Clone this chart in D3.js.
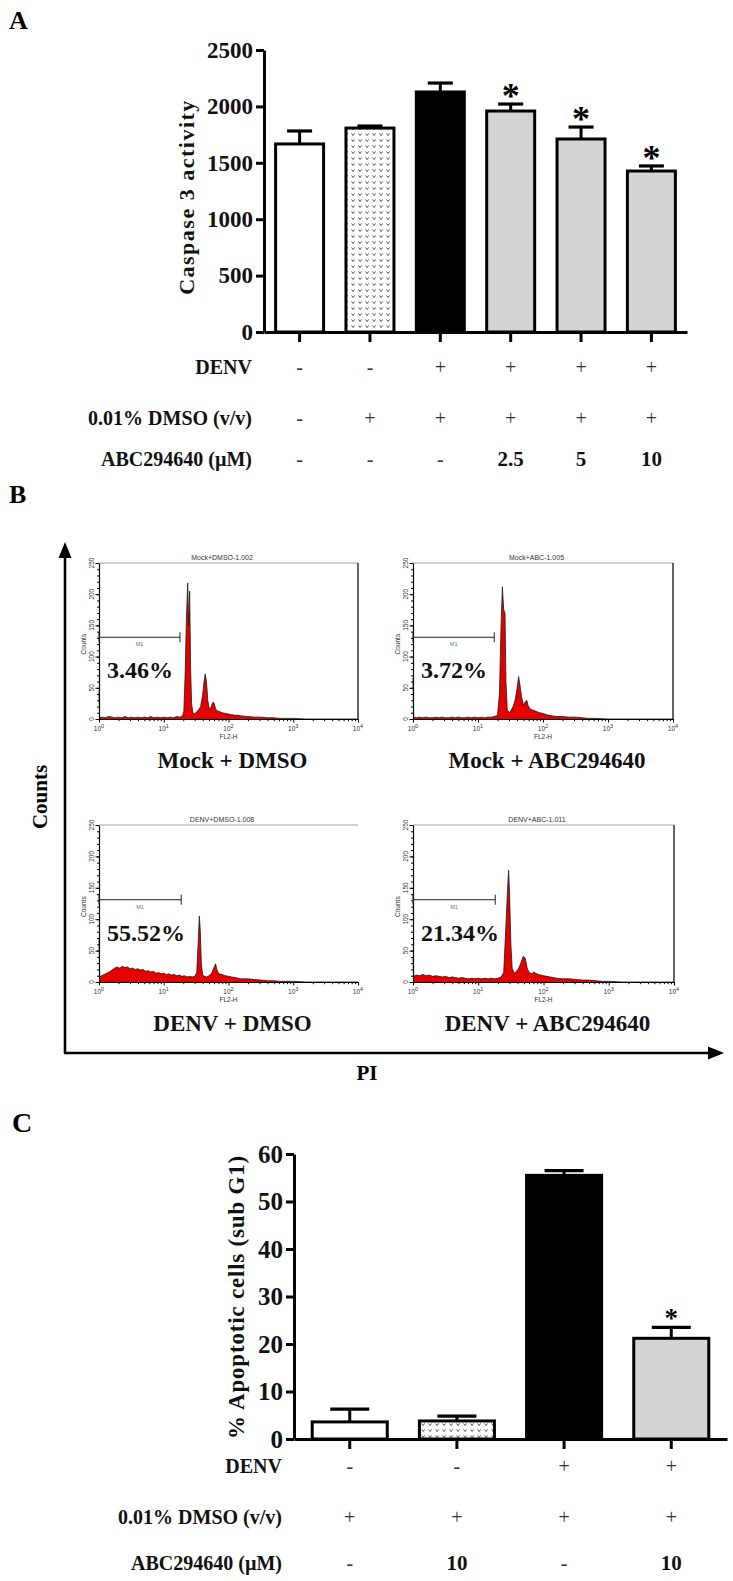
<!DOCTYPE html>
<html><head><meta charset="utf-8">
<script src="https://cdn.jsdelivr.net/npm/d3@7"></script>
<style>body{margin:0;background:#fff} svg{display:block}</style>
</head><body>
<svg id="fig" width="733" height="1581"></svg>
<script>
// ---------------- Panel A data ----------------
const groupsA = ["Mock","Mock+DMSO","DENV+DMSO","DENV+2.5","DENV+5","DENV+10"];
const caspase = [1667, 1808, 2128, 1959, 1711, 1427];
const caspaseErr = [115, 18, 79, 62, 106, 45];
const sigA = [false, false, false, true, true, true];
const fillsA = ["white", "pattern", "black", "grey", "grey", "grey"];
const yTicksA = [0, 500, 1000, 1500, 2000, 2500];
const denvA = ["-", "-", "+", "+", "+", "+"];
const dmsoA = ["-", "+", "+", "+", "+", "+"];
const abcA  = ["-", "-", "-", "2.5", "5", "10"];

// ---------------- Panel C data ----------------
const groupsC = ["Mock+DMSO","Mock+ABC","DENV+DMSO","DENV+ABC"];
const apoptotic = [3.6, 3.8, 55.5, 21.2];
const apoErr = [2.7, 1.0, 1.0, 2.3];
const sigC = [false, false, false, true];
const fillsC = ["white", "pattern", "black", "grey"];
const yTicksC = [0, 10, 20, 30, 40, 50, 60];
const denvC = ["-", "-", "+", "+"];
const dmsoC = ["+", "+", "+", "+"];
const abcC  = ["-", "10", "-", "10"];

// ---------------- Panel B data: [log10(FL2-H), counts] ----------------
const histMockDMSO = [[0.00,45],[0.01,2],[0.05,3],[0.10,2],[0.15,4],[0.20,3],[0.25,2],[0.30,3],[0.35,2],[0.40,4],[0.45,2],[0.50,3],[0.55,2],[0.60,3],[0.65,2],[0.70,3],[0.75,2],[0.80,4],[0.85,2],[0.90,3],[0.95,2],[1.00,3],[1.05,2],[1.10,3],[1.15,2],[1.20,4],[1.25,3],[1.29,5],[1.31,12],[1.33,70],[1.35,160],[1.37,218],[1.385,150],[1.40,205],[1.415,80],[1.43,25],[1.45,10],[1.48,8],[1.51,12],[1.54,15],[1.57,20],[1.60,38],[1.62,58],[1.64,72],[1.66,60],[1.68,30],[1.70,18],[1.72,16],[1.74,22],[1.76,27],[1.78,25],[1.80,16],[1.83,13],[1.86,12],[1.90,10],[1.95,9],[2.00,8],[2.05,7],[2.10,6],[2.15,6],[2.20,5],[2.30,4],[2.40,3],[2.50,3],[2.60,2],[2.70,2],[2.80,1],[2.90,1],[3.00,1],[3.20,0],[4.00,0]];
const histMockABC = [[0.00,66],[0.01,3],[0.05,2],[0.10,3],[0.15,2],[0.20,3],[0.25,2],[0.30,2],[0.35,3],[0.40,2],[0.45,3],[0.50,2],[0.55,2],[0.60,3],[0.65,2],[0.70,3],[0.75,2],[0.80,2],[0.85,3],[0.90,2],[0.95,3],[1.00,2],[1.05,3],[1.10,2],[1.15,3],[1.20,3],[1.25,4],[1.30,6],[1.33,40],[1.355,150],[1.375,212],[1.395,175],[1.415,170],[1.43,60],[1.45,15],[1.48,10],[1.51,14],[1.54,20],[1.57,30],[1.60,48],[1.625,68],[1.645,55],[1.67,35],[1.70,22],[1.73,28],[1.75,30],[1.77,22],[1.80,16],[1.85,14],[1.90,12],[1.95,10],[2.00,9],[2.05,7],[2.10,6],[2.15,5],[2.20,4],[2.30,4],[2.40,3],[2.50,3],[2.60,2],[2.70,1],[2.80,1],[3.00,0],[4.00,0]];
const histDenvDMSO = [[0.00,70],[0.01,8],[0.04,10],[0.08,12],[0.12,14],[0.16,16],[0.20,19],[0.24,22],[0.28,24],[0.32,22],[0.36,25],[0.40,23],[0.44,24],[0.48,21],[0.52,22],[0.56,20],[0.60,21],[0.64,19],[0.68,20],[0.72,17],[0.76,18],[0.80,16],[0.84,17],[0.88,14],[0.92,15],[0.96,13],[1.00,14],[1.04,12],[1.08,13],[1.12,11],[1.16,12],[1.20,10],[1.24,11],[1.28,9],[1.32,10],[1.36,8],[1.40,9],[1.44,8],[1.48,9],[1.51,15],[1.53,60],[1.55,105],[1.565,80],[1.58,30],[1.60,12],[1.63,9],[1.66,8],[1.70,10],[1.74,14],[1.78,24],[1.80,29],[1.82,20],[1.85,13],[1.90,12],[1.95,10],[2.00,9],[2.05,8],[2.10,7],[2.15,6],[2.20,5],[2.30,5],[2.40,4],[2.50,3],[2.60,2],[2.70,2],[2.80,1],[2.90,1],[3.00,1],[3.20,0],[4.00,0]];
const histDenvABC = [[0.00,40],[0.01,9],[0.05,11],[0.10,10],[0.15,12],[0.20,10],[0.25,11],[0.30,9],[0.35,10],[0.40,9],[0.45,8],[0.50,9],[0.55,7],[0.60,8],[0.65,7],[0.70,6],[0.75,7],[0.80,6],[0.85,5],[0.90,6],[0.95,5],[1.00,6],[1.05,5],[1.10,6],[1.15,5],[1.20,6],[1.25,5],[1.30,6],[1.35,8],[1.39,15],[1.42,80],[1.45,150],[1.465,178],[1.48,140],[1.50,60],[1.52,22],[1.55,14],[1.58,16],[1.62,22],[1.66,32],[1.69,41],[1.72,38],[1.75,22],[1.78,15],[1.82,13],[1.85,16],[1.88,14],[1.92,12],[1.96,11],[2.00,10],[2.05,9],[2.10,8],[2.15,7],[2.20,6],[2.30,5],[2.40,5],[2.50,4],[2.60,3],[2.70,3],[2.80,2],[2.90,1],[3.00,1],[3.20,0],[4.00,0]];
const flowTitles = ["Mock+DMSO-1.002", "Mock+ABC-1.005", "DENV+DMSO-1.008", "DENV+ABC-1.011"];
const flowLabels = ["Mock + DMSO", "Mock + ABC294640", "DENV + DMSO", "DENV + ABC294640"];
const subG1 = ["3.46%", "3.72%", "55.52%", "21.34%"];
const m1End = [1.25, 1.25, 1.27, 1.26];
const countTicks = [0, 50, 100, 150, 200, 250];
const decadeTicks = [0, 1, 2, 3, 4];

// ---------------- drawing ----------------
const svg = d3.select("#fig");
const serif = "'Liberation Serif','Times New Roman',Times,serif";
const sans = "'Liberation Sans',Arial,sans-serif";

const defs = svg.append("defs");
const pat = defs.append("pattern").attr("id","dots").attr("patternUnits","userSpaceOnUse")
  .attr("width",7).attr("height",6);
pat.append("rect").attr("width",7).attr("height",6).attr("fill","#fff");
pat.append("path").attr("d","M1.6,1.4 L3.1,3.6 L4.6,1.4").attr("fill","none").attr("stroke","#4a4a4a").attr("stroke-width",0.9);

const fillOf = f => f === "pattern" ? "url(#dots)" : f === "grey" ? "#d4d4d4" : f === "black" ? "#000" : "#fff";

function barPanel(c) {
  const g = svg.append("g");
  const x = d3.scaleBand().domain(c.groups).range(c.xRange).paddingInner(c.pi).paddingOuter(c.po);
  const y = d3.scaleLinear().domain(c.domain).range(c.yRange);
  const bw = x.bandwidth();
  const cx = i => x(c.groups[i]) + bw / 2;

  c.values.forEach((v, i) => {
    g.append("line").attr("x1", cx(i)).attr("x2", cx(i)).attr("y1", y(v)).attr("y2", y(v + c.errs[i]))
      .attr("stroke", "#000").attr("stroke-width", 3);
    g.append("line").attr("x1", cx(i) - c.capW / 2).attr("x2", cx(i) + c.capW / 2)
      .attr("y1", y(v + c.errs[i])).attr("y2", y(v + c.errs[i]))
      .attr("stroke", "#000").attr("stroke-width", 3.2);
    if (c.sig[i]) {
      g.append("text").attr("x", cx(i)).attr("y", y(v + c.errs[i]) + c.starDy)
        .attr("text-anchor", "middle").attr("font-family", serif).attr("font-weight", "bold")
        .attr("font-size", c.starFs).text("*");
    }
  });
  g.selectAll("rect.bar").data(c.values).join("rect").attr("class", "bar")
    .attr("x", (d, i) => x(c.groups[i])).attr("width", bw)
    .attr("y", d => y(d)).attr("height", d => y(0) - y(d))
    .attr("fill", (d, i) => fillOf(c.fills[i])).attr("stroke", "#000").attr("stroke-width", 3);

  const ya = g.append("g").attr("transform", `translate(${c.xRange[0]},0)`)
    .call(d3.axisLeft(y).tickValues(c.yTicks).tickSize(8).tickSizeOuter(0).tickPadding(3).tickFormat(d3.format("d")));
  ya.select(".domain").attr("stroke-width", 3);
  ya.selectAll(".tick line").attr("stroke-width", 3);
  ya.selectAll(".tick text").attr("font-family", serif).attr("font-weight", "bold")
    .attr("font-size", c.tickFs).attr("fill", "#111");
  const xa = g.append("g").attr("transform", `translate(0,${y(0)})`)
    .call(d3.axisBottom(x).tickSize(10).tickSizeOuter(0).tickFormat(""));
  xa.select(".domain").attr("stroke-width", 3);
  xa.selectAll(".tick line").attr("stroke-width", 3);

  g.append("text").attr("transform", `translate(${c.yLabelX},${c.yLabelY}) rotate(-90)`)
    .attr("text-anchor", "middle").attr("font-family", serif).attr("font-weight", "bold")
    .attr("font-size", c.yLabelFs).attr("letter-spacing", c.yLabelLs).attr("fill", "#111").text(c.yLabel);

  c.rows.forEach(r => {
    g.append("text").attr("x", c.labelRight).attr("y", r.y).attr("text-anchor", "end")
      .attr("font-family", serif).attr("font-weight", "bold").attr("font-size", 20).attr("fill", "#111").text(r.label);
    r.vals.forEach((v, i) => {
      const sym = v === "+" || v === "-";
      g.append("text").attr("x", cx(i)).attr("y", r.y).attr("text-anchor", "middle")
        .attr("font-family", serif).attr("font-weight", sym ? "normal" : "bold")
        .attr("font-size", sym ? 20 : 21).attr("fill", sym ? "#333" : "#111").text(v);
    });
  });
}

// Panel A
svg.append("text").attr("x", 9).attr("y", 29).attr("font-family", serif).attr("font-weight", "bold")
  .attr("font-size", 26).text("A");
barPanel({
  groups: groupsA, values: caspase, errs: caspaseErr, sig: sigA, fills: fillsA,
  domain: [0, 2500], yTicks: yTicksA, xRange: [264, 687], yRange: [332, 50],
  pi: 0.318, po: 0.165, capW: 25, tickFs: 23, starFs: 36, starDy: 4,
  yLabel: "Caspase 3 activity", yLabelX: 194, yLabelY: 197, yLabelFs: 22, yLabelLs: 1.5,
  labelRight: 252,
  rows: [{label: "DENV", vals: denvA, y: 374}, {label: "0.01% DMSO (v/v)", vals: dmsoA, y: 425}, {label: "ABC294640 (\u00b5M)", vals: abcA, y: 466}]
});

// Panel B
svg.append("text").attr("x", 9).attr("y", 503).attr("font-family", serif).attr("font-weight", "bold")
  .attr("font-size", 26).text("B");
svg.append("line").attr("x1", 65).attr("x2", 65).attr("y1", 1053).attr("y2", 556).attr("stroke", "#000").attr("stroke-width", 2.6);
svg.append("path").attr("d", "M65,542 L58.5,558 L71.5,558 Z").attr("fill", "#000");
svg.append("line").attr("x1", 64).attr("x2", 710).attr("y1", 1053).attr("y2", 1053).attr("stroke", "#000").attr("stroke-width", 2.6);
svg.append("path").attr("d", "M724,1053 L708,1046.5 L708,1059.5 Z").attr("fill", "#000");
svg.append("text").attr("transform", "translate(47,797) rotate(-90)").attr("text-anchor", "middle")
  .attr("font-family", serif).attr("font-weight", "bold").attr("font-size", 21).text("Counts");
svg.append("text").attr("x", 367).attr("y", 1080).attr("text-anchor", "middle")
  .attr("font-family", serif).attr("font-weight", "bold").attr("font-size", 21).text("PI");

function flowPanel(p) {
  const xs = d3.scaleLinear().domain([0, 4]).range([p.x0, p.x1]);
  const ys = d3.scaleLinear().domain([0, 250]).range([p.yb, p.yt]);
  const g = svg.append("g");
  g.append("path").datum(p.data)
    .attr("d", d3.area().x(d => xs(d[0])).y0(ys(0)).y1(d => ys(d[1])))
    .attr("fill", "#e50000");
  g.append("path").datum(p.data)
    .attr("d", d3.line().x(d => xs(d[0])).y(d => ys(d[1])))
    .attr("fill", "none").attr("stroke", "#1a1a1a").attr("stroke-width", 0.8);
  g.append("line").attr("x1", xs(0)).attr("x2", xs(4)).attr("y1", ys(250)).attr("y2", ys(250))
    .attr("stroke", "#a0a0a0").attr("stroke-width", 1);
  if (p.right) g.append("line").attr("x1", xs(4)).attr("x2", xs(4)).attr("y1", ys(250)).attr("y2", ys(0))
    .attr("stroke", "#111").attr("stroke-width", 1.3);
  const ya = g.append("g").attr("transform", `translate(${p.x0},0)`)
    .call(d3.axisLeft(ys).tickValues(countTicks).tickSize(3.5).tickSizeOuter(0).tickFormat(""));
  g.append("g").attr("transform", `translate(${p.x0},0)`)
    .call(d3.axisLeft(ys).tickValues(d3.range(0, 251, 10)).tickSize(2).tickSizeOuter(0).tickFormat(""))
    .select(".domain").remove();
  ya.select(".domain").attr("stroke-width", 1.2);
  g.selectAll("text.yl").data(countTicks).join("text").attr("class", "yl")
    .attr("transform", d => `translate(${p.x0 - 5},${ys(d)}) rotate(-90)`)
    .attr("text-anchor", "middle").attr("font-family", sans).attr("font-size", 6.5).attr("fill", "#333").text(d => d);
  g.append("text").attr("transform", `translate(${p.x0 - 13},${ys(120)}) rotate(-90)`)
    .attr("text-anchor", "middle").attr("font-family", sans).attr("font-size", 6.5).attr("fill", "#333").text("Counts");
  const xa = g.append("g").attr("transform", `translate(0,${p.yb})`)
    .call(d3.axisBottom(xs).tickValues(decadeTicks).tickSize(3.5).tickSizeOuter(0).tickFormat(""));
  xa.select(".domain").attr("stroke-width", 1.2);
  const minor = decadeTicks.slice(0, 4).flatMap(d => [2, 3, 4, 5, 6, 7, 8, 9].map(k => d + Math.log10(k)));
  g.append("g").attr("transform", `translate(0,${p.yb})`)
    .call(d3.axisBottom(xs).tickValues(minor).tickSize(2.2).tickSizeOuter(0).tickFormat(""))
    .select(".domain").remove();
  const tl = g.selectAll("text.xl").data(decadeTicks).join("text").attr("class", "xl")
    .attr("x", d => xs(d)).attr("y", p.yb + 12).attr("text-anchor", "middle")
    .attr("font-family", sans).attr("font-size", 6.5).attr("fill", "#333");
  tl.append("tspan").text("10");
  tl.append("tspan").attr("dy", -3).attr("font-size", 5.5).text(d => d);
  g.append("text").attr("x", xs(2)).attr("y", p.yb + 20).attr("text-anchor", "middle")
    .attr("font-family", sans).attr("font-size", 6.5).attr("fill", "#333").text("FL2-H");
  g.append("text").attr("x", xs(1.9)).attr("y", p.yt - 3).attr("text-anchor", "middle")
    .attr("font-family", sans).attr("font-size", 7).attr("fill", "#333").text(p.title);
  const my = ys(131);
  g.append("line").attr("x1", xs(0)).attr("x2", xs(p.m1)).attr("y1", my).attr("y2", my).attr("stroke", "#222").attr("stroke-width", 1);
  [0, p.m1].forEach(v => g.append("line").attr("x1", xs(v)).attr("x2", xs(v)).attr("y1", my - 5).attr("y2", my + 5)
    .attr("stroke", "#222").attr("stroke-width", 1));
  g.append("text").attr("x", xs(p.m1 / 2)).attr("y", my + 9).attr("text-anchor", "middle")
    .attr("font-family", sans).attr("font-size", 5.5).attr("fill", "#5a6fa0").text("M1");
  g.append("text").attr("x", p.x0 + 8).attr("y", my + 41)
    .attr("font-family", serif).attr("font-weight", "bold").attr("font-size", 24).attr("fill", "#111").text(p.pct);
  g.append("text").attr("x", (p.x0 + p.x1) / 2 + 4).attr("y", p.yb + 49).attr("text-anchor", "middle")
    .attr("font-family", serif).attr("font-weight", "bold").attr("font-size", 23).attr("fill", "#111").text(p.label);
}

const flowData = [histMockDMSO, histMockABC, histDenvDMSO, histDenvABC];
const boxes = [
  {x0: 99, x1: 358, yt: 563, yb: 719, right: true},
  {x0: 413, x1: 673, yt: 563, yb: 719, right: true},
  {x0: 99, x1: 358, yt: 825, yb: 982, right: false},
  {x0: 413, x1: 674, yt: 825, yb: 982, right: true}
];
boxes.forEach((b, i) => flowPanel(Object.assign({}, b, {
  data: flowData[i], title: flowTitles[i], label: flowLabels[i], pct: subG1[i], m1: m1End[i]
})));

// Panel C
svg.append("text").attr("x", 12).attr("y", 1132).attr("font-family", serif).attr("font-weight", "bold")
  .attr("font-size", 28).text("C");
barPanel({
  groups: groupsC, values: apoptotic, errs: apoErr, sig: sigC, fills: fillsC,
  domain: [0, 60], yTicks: yTicksC, xRange: [294, 727], yRange: [1439, 1154],
  pi: 0.3, po: 0.17, capW: 39, tickFs: 25, starFs: 27, starDy: 0,
  yLabel: "% Apoptotic cells (sub G1)", yLabelX: 244, yLabelY: 1297, yLabelFs: 23, yLabelLs: 0.8,
  labelRight: 282,
  rows: [{label: "DENV", vals: denvC, y: 1473}, {label: "0.01% DMSO (v/v)", vals: dmsoC, y: 1524}, {label: "ABC294640 (\u00b5M)", vals: abcC, y: 1570}]
});
</script>
</body></html>
